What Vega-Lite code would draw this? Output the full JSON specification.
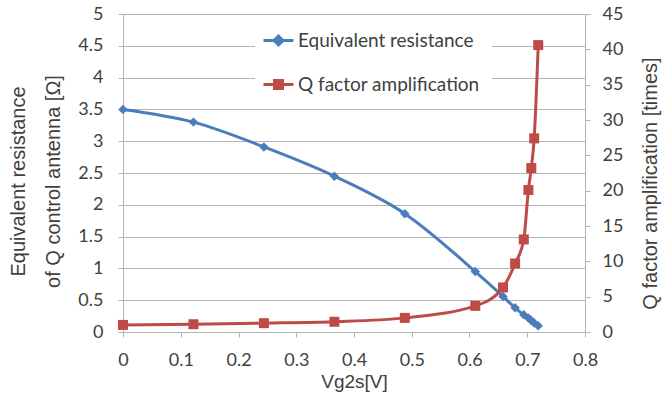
{
  "$schema": "https://vega.github.io/schema/vega-lite/v6.json",
  "width": 462,
  "height": 318,
  "autosize": {"type": "none"},
  "padding": {"left": 123, "top": 14, "right": 81, "bottom": 66},
  "background": "white",
  "config": {"view": {"stroke": null}, "font": "Lato"},
  "data": {
    "values": [
      {"x": 0.0, "series": "Equivalent resistance", "value": 3.5},
      {"x": 0.122, "series": "Equivalent resistance", "value": 3.3},
      {"x": 0.244, "series": "Equivalent resistance", "value": 2.91},
      {"x": 0.366, "series": "Equivalent resistance", "value": 2.45},
      {"x": 0.488, "series": "Equivalent resistance", "value": 1.86},
      {"x": 0.61, "series": "Equivalent resistance", "value": 0.95},
      {"x": 0.658, "series": "Equivalent resistance", "value": 0.56},
      {"x": 0.679, "series": "Equivalent resistance", "value": 0.38},
      {"x": 0.694, "series": "Equivalent resistance", "value": 0.27},
      {"x": 0.702, "series": "Equivalent resistance", "value": 0.22},
      {"x": 0.707, "series": "Equivalent resistance", "value": 0.18},
      {"x": 0.712, "series": "Equivalent resistance", "value": 0.14},
      {"x": 0.719, "series": "Equivalent resistance", "value": 0.1},
      {"x": 0.0, "series": "Q factor amplification", "value": 1.0},
      {"x": 0.122, "series": "Q factor amplification", "value": 1.1},
      {"x": 0.244, "series": "Q factor amplification", "value": 1.25},
      {"x": 0.366, "series": "Q factor amplification", "value": 1.45},
      {"x": 0.488, "series": "Q factor amplification", "value": 2.0},
      {"x": 0.61, "series": "Q factor amplification", "value": 3.7},
      {"x": 0.658, "series": "Q factor amplification", "value": 6.3},
      {"x": 0.679, "series": "Q factor amplification", "value": 9.7},
      {"x": 0.694, "series": "Q factor amplification", "value": 13.1},
      {"x": 0.702, "series": "Q factor amplification", "value": 20.1},
      {"x": 0.707, "series": "Q factor amplification", "value": 23.2},
      {"x": 0.712, "series": "Q factor amplification", "value": 27.4},
      {"x": 0.719, "series": "Q factor amplification", "value": 40.6}
    ]
  },
  "encoding": {
    "x": {
      "field": "x",
      "type": "quantitative",
      "scale": {"domain": [0, 0.8], "nice": false},
      "axis": {
        "values": [0, 0.1, 0.2, 0.3, 0.4, 0.5, 0.6, 0.7, 0.8],
        "format": ".1~f",
        "grid": false,
        "labelFlush": false,
        "domainColor": "#b3b3b3",
        "tickColor": "#b3b3b3",
        "tickSize": 5,
        "labelPadding": 14,
        "labelFont": "Lato",
        "labelFontSize": 18,
        "labelColor": "#404040",
        "title": "Vg2s[V]",
        "titleFont": "Liberation Sans",
        "titleFontSize": 19,
        "titleFontWeight": "normal",
        "titleColor": "#404040",
        "titleX": 231,
        "titleY": 49,
        "titleBaseline": "middle",
        "titleAlign": "center"
      }
    },
    "color": {
      "field": "series",
      "type": "nominal",
      "scale": {
        "domain": ["Equivalent resistance", "Q factor amplification"],
        "range": ["#4a7ebb", "#be4b48"]
      },
      "legend": {
        "orient": "none",
        "legendX": 132,
        "legendY": 3,
        "title": null,
        "padding": 12,
        "fillColor": "white",
        "labelFont": "Lato",
        "labelFontSize": 19,
        "labelColor": "#404040",
        "labelLimit": 400,
        "symbolSize": 400,
        "rowPadding": 22,
        "labelOffset": 8,
        "symbolStrokeWidth": 3,
        "encode": {
          "symbols": {
            "update": {
              "shape": {"signal": "datum.value === 'Equivalent resistance' ? 'M-1.5,0H1.5M-0.45,0L0,-0.45L0.45,0L0,0.45Z' : 'M-1.5,0H1.5M-0.4,-0.4H0.4V0.4H-0.4Z'"},
              "fill": {"signal": "datum.value === 'Equivalent resistance' ? '#4a7ebb' : '#be4b48'"},
              "stroke": {"signal": "datum.value === 'Equivalent resistance' ? '#4a7ebb' : '#be4b48'"},
              "strokeWidth": {"value": 3},
              "opacity": {"value": 1}
            }
          }
        }
      }
    }
  },
  "layer": [
    {
      "transform": [{"filter": "datum.series === 'Equivalent resistance'"}],
      "encoding": {
        "y": {
          "field": "value",
          "type": "quantitative",
          "scale": {"domain": [0, 5], "nice": false},
          "axis": {
            "values": [0, 0.5, 1, 1.5, 2, 2.5, 3, 3.5, 4, 4.5, 5],
            "format": ".1~f",
            "grid": true,
            "labelFlush": false,
            "gridColor": "#b3b3b3",
            "domainColor": "#b3b3b3",
            "tickColor": "#b3b3b3",
            "tickSize": 5,
            "labelPadding": 15,
            "labelFont": "Lato",
            "labelFontSize": 18,
            "labelColor": "#404040",
            "title": ["Equivalent resistance", "of Q control antenna [Ω]"],
            "titleFont": "Liberation Sans",
            "titleFontSize": 20,
            "titleFontWeight": "normal",
            "titleColor": "#404040",
            "titleLineHeight": 35,
            "titleAngle": -90,
            "titleX": -105,
            "titleY": 167,
            "titleBaseline": "middle",
            "titleAlign": "center"
          }
        }
      },
      "layer": [
        {"mark": {"type": "line", "interpolate": "monotone", "strokeWidth": 3}},
        {"mark": {"type": "point", "shape": "diamond", "filled": true, "size": 90, "opacity": 1}}
      ]
    },
    {
      "transform": [{"filter": "datum.series === 'Q factor amplification'"}],
      "encoding": {
        "y": {
          "field": "value",
          "type": "quantitative",
          "scale": {"domain": [0, 45], "nice": false},
          "axis": {
            "orient": "right",
            "values": [0, 5, 10, 15, 20, 25, 30, 35, 40, 45],
            "grid": false,
            "labelFlush": false,
            "domainColor": "#b3b3b3",
            "tickColor": "#b3b3b3",
            "tickSize": 5,
            "labelPadding": 12,
            "labelFont": "Lato",
            "labelFontSize": 18,
            "labelColor": "#404040",
            "title": "Q factor amplification [times]",
            "titleFont": "Liberation Sans",
            "titleFontSize": 20,
            "titleFontWeight": "normal",
            "titleColor": "#404040",
            "titleAngle": -90,
            "titleX": 65,
            "titleY": 169,
            "titleBaseline": "middle",
            "titleAlign": "center"
          }
        }
      },
      "layer": [
        {"mark": {"type": "line", "interpolate": "monotone", "strokeWidth": 3}},
        {"mark": {"type": "point", "shape": "square", "filled": true, "size": 100, "opacity": 1}}
      ]
    }
  ],
  "resolve": {"scale": {"y": "independent"}}
}
